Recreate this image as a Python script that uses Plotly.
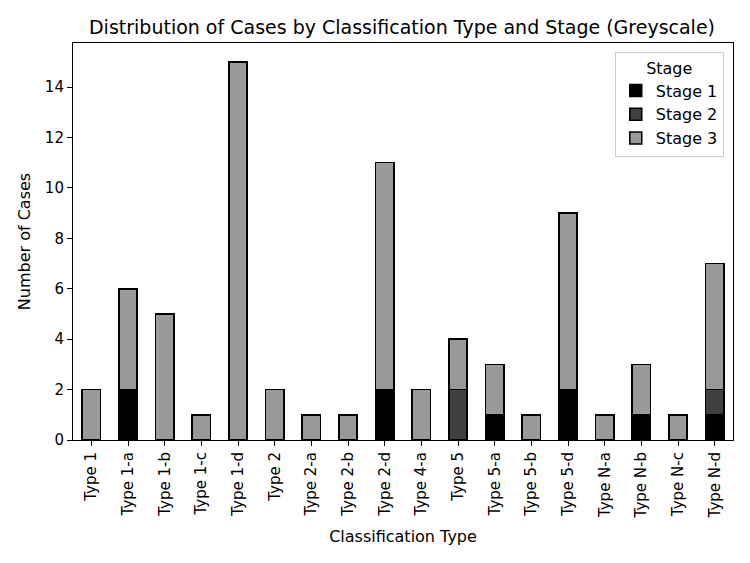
import plotly.graph_objects as go

categories = ["Type 1", "Type 1-a", "Type 1-b", "Type 1-c", "Type 1-d", "Type 2", "Type 2-a",
              "Type 2-b", "Type 2-d", "Type 4-a", "Type 5", "Type 5-a", "Type 5-b", "Type 5-d",
              "Type N-a", "Type N-b", "Type N-c", "Type N-d"]
stage1 = [0, 2, 0, 0, 0, 0, 0, 0, 2, 0, 0, 1, 0, 2, 0, 1, 0, 1]
stage2 = [0, 0, 0, 0, 0, 0, 0, 0, 0, 0, 2, 0, 0, 0, 0, 0, 0, 1]
stage3 = [2, 4, 5, 1, 15, 2, 1, 1, 9, 2, 2, 2, 1, 7, 1, 2, 1, 5]
series_names = ["Stage 1", "Stage 2", "Stage 3"]
colors = ["#000000", "#404040", "#999999"]

FONT = "DejaVu Sans"
fig = go.Figure()
for name, vals, col in zip(series_names, [stage1, stage2, stage3], colors):
    fig.add_trace(go.Bar(
        x=categories, y=[v if v else None for v in vals], name=name,
        marker=dict(color=col, line=dict(color="black", width=1.5)),
        width=0.5,
    ))

axis_common = dict(showline=True, linecolor="black", linewidth=1.1, mirror=True,
                   ticks="outside", ticklen=5, tickwidth=1.1, tickcolor="black", showgrid=False,
                   zeroline=False, tickfont=dict(family=FONT, size=15, color="black"))
fig.update_layout(
    barmode="stack",
    width=750, height=563,
    margin=dict(l=73, r=17, t=43, b=123),
    plot_bgcolor="white", paper_bgcolor="white",
    font=dict(family=FONT, color="black"),
    title=dict(text="Distribution of Cases by Classification Type and Stage (Greyscale)",
               x=0.536, xanchor="center", y=0.952, yanchor="middle",
               font=dict(family=FONT, size=19, color="black")),
    xaxis=dict(**axis_common, tickangle=-90, range=[-0.5, 17.5],
               title=dict(text="Classification Type", font=dict(family=FONT, size=16), standoff=13)),
    yaxis=dict(**axis_common, range=[0, 15.75], tickvals=[0, 2, 4, 6, 8, 10, 12, 14],
               title=dict(text="Number of Cases", font=dict(family=FONT, size=16), standoff=10)),
    legend=dict(x=0.986, xanchor="right", y=0.978, yanchor="top", traceorder="normal",
                bgcolor="white", bordercolor="#cccccc", borderwidth=1,
                font=dict(family=FONT, size=16),
                title=dict(text="Stage", side="top center", font=dict(family=FONT, size=16))),
    bargap=0.5,
)
fig.write_html("out.html")
